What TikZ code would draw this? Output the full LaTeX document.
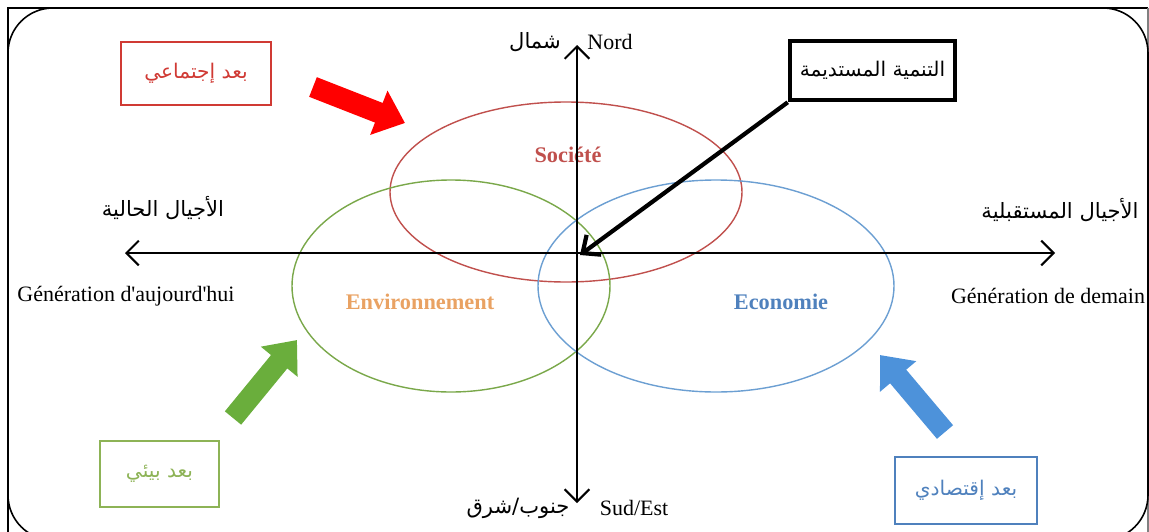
\documentclass[tikz,border=0pt]{standalone}
\usepackage{fontspec}
\setmainfont{Liberation Serif}
\newfontfamily\arabicfont[Script=Arabic]{DejaVu Sans}
\TeXXeTstate=1
\usetikzlibrary{arrows.meta}
\definecolor{socred}{HTML}{C0504D}
\definecolor{boxred}{HTML}{D03A34}
\definecolor{envgreen}{HTML}{7AA84A}
\definecolor{arrgreen}{HTML}{6AAE3C}
\definecolor{txtgreen}{HTML}{8DB356}
\definecolor{ecoblue}{HTML}{6C9FD2}
\definecolor{arrblue}{HTML}{4D92DA}
\definecolor{txtblue}{HTML}{4F81BD}
\definecolor{envorange}{HTML}{E9A263}
\newcommand{\ar}[1]{\arabicfont\beginR #1\endR}

\begin{document}
\begin{tikzpicture}[x=0.02cm, y=-0.02cm,
  every node/.style={font=\fontsize{12.5}{15}\selectfont, inner sep=1pt},
  axis/.style={line width=1.2pt, {Straight Barb[length=7pt,width=14pt]}-{Straight Barb[length=7pt,width=14pt]}},
  blockarrow/.style={draw=#1, line width=12pt, -{Triangle[length=16pt,width=26pt]}},
  dimbox/.style={draw=#1, line width=1.1pt, text=#1, font=\fontsize{11.5}{13}\selectfont},
  arlabel/.style={font=\fontsize{12}{14}\selectfont}]
\useasboundingbox (0,0) rectangle (1149,531);
\clip (0,0) rectangle (1149,531);
% frame
\draw[line width=1.7pt] (8,545) -- (8,8) -- (1148,8);
\draw[gray, line width=.6pt] (1148,8) -- (1148,545);
\draw[line width=.9pt, rounded corners=0.9cm] (8,8) rectangle (1148,540);

% ellipses
\draw[socred, line width=.8pt] (566,192) ellipse [x radius=176, y radius=90];
\draw[envgreen, line width=.8pt] (451,286) ellipse [x radius=159, y radius=106];
\draw[ecoblue, line width=.8pt] (716,286) ellipse [x radius=178, y radius=106];
\node[font=\fontsize{12.7}{15}\selectfont\bfseries, text=socred] (soc) at (568,155) {Société};
\node[font=\fontsize{12.7}{15}\selectfont\bfseries, text=envorange] (env) at (420,302) {Environnement};
\node[font=\fontsize{12.7}{15}\selectfont\bfseries, text=txtblue] (eco) at (781,302) {Economie};

% axes
\coordinate (N) at (577,45);
\coordinate (S) at (577,503);
\coordinate (W) at (125,253);
\coordinate (E) at (1055,253);
\coordinate (O) at (580,255);
\draw[axis] (N) -- (S);
\draw[axis] (W) -- (E);
\node[arlabel] (shamal) at (535,42) {\ar{شمال}};
\node (nord) at (610,42) {Nord};
\node[arlabel] (janub) at (518,508) {\ar{جنوب/شرق}};
\node (sud) at (634,508) {Sud/Est};
\node[arlabel] (presAR) at (163,208) {\ar{الأجيال الحالية}};
\node (presFR) at (126,296) {Génération d\textquotesingle aujourd\textquotesingle hui};
\node[arlabel] (futAR) at (1060,210) {\ar{الأجيال المستقبلية}};
\node[anchor=west] (futFR) at (949,296) {Génération de demain};

% dimension boxes
\node[dimbox=boxred, minimum width=3cm, minimum height=1.26cm] (social) at (196,73.5) {\ar{بعد إجتماعي}};
\node[dimbox=txtgreen, minimum width=2.38cm, minimum height=1.32cm] (ecolo) at (159.5,474) {\ar{بعد بيئي}};
\node[dimbox=txtblue, minimum width=2.84cm, minimum height=1.34cm] (econ) at (966,490.5) {\ar{بعد إقتصادي}};
\node[draw, line width=2.6pt, minimum width=3.3cm, minimum height=1.18cm, font=\fontsize{11.5}{13}\selectfont] (dd) at (872.5,70.5) {\ar{التنمية المستديمة}};
\draw[line width=2.4pt, -{Straight Barb[length=8pt,width=14pt]}] (dd.south west) -- (O);

% block arrows
\coordinate (r0) at (313,87);  \coordinate (r1) at (405,123);
\coordinate (g0) at (233,418); \coordinate (g1) at (297,340);
\coordinate (b0) at (945,432); \coordinate (b1) at (880,355);
\draw[blockarrow=red] (r0) -- (r1);
\draw[blockarrow=arrgreen] (g0) -- (g1);
\draw[blockarrow=arrblue] (b0) -- (b1);
\end{tikzpicture}
\end{document}
